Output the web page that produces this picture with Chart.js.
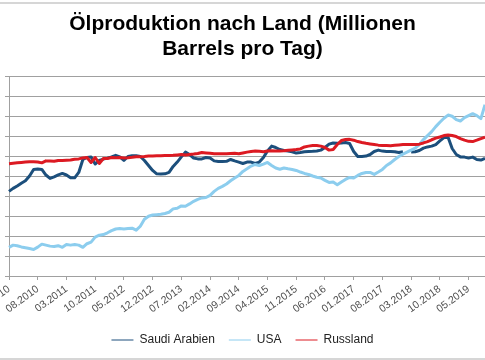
<!DOCTYPE html>
<html>
<head>
<meta charset="utf-8">
<script src="https://cdn.jsdelivr.net/npm/chart.js@4"></script>
<style>
  body { margin: 0; background: #fff; }
  #wrap { position: relative; width: 485px; height: 360px; overflow: hidden; }
  #rahmen { position: absolute; left: -5px; right: -5px; top: 2px; height: 354px;
            border-top: 2px solid #d6d6d6; border-bottom: 2px solid #d6d6d6; }
  canvas { position: absolute; left: 0; top: 0; }
</style>
</head>
<body>
<div id="wrap">
  <div id="rahmen"></div>
  <canvas id="chart" width="485" height="360"></canvas>
</div>
<script>
// Monate 01.2010 .. 09.2019
const monate = [];
for (let j = 2010; j <= 2019; j++) {
    for (let m = 1; m <= 12; m++) {
        if (j === 2019 && m > 9) break;
        monate.push((m < 10 ? '0' + m : m) + '.' + j);
    }
}

const saudiArabien = [
    8.25, 8.40, 8.52, 8.66, 8.78, 9.02, 9.35, 9.37, 9.35, 9.07, 8.90, 8.98,
    9.08, 9.15, 9.07, 8.93, 8.93, 9.20, 9.85, 9.95, 9.98, 9.62, 9.80, 9.87,
    9.92, 9.98, 10.06, 9.98, 9.80, 10.00, 10.04, 10.04, 10.00, 9.80, 9.55, 9.30,
    9.13, 9.12, 9.13, 9.20, 9.50, 9.72, 9.98, 10.22, 10.10, 9.92, 9.88, 9.88,
    9.95, 9.92, 9.78, 9.75, 9.75, 9.76, 9.85, 9.78, 9.72, 9.65, 9.72, 9.72,
    9.65, 9.72, 9.95, 10.28, 10.52, 10.45, 10.35, 10.30, 10.28, 10.24, 10.17, 10.20,
    10.24, 10.25, 10.26, 10.28, 10.32, 10.45, 10.62, 10.68, 10.67, 10.68, 10.70, 10.65,
    10.25, 10.00, 10.00, 10.02, 10.10, 10.25, 10.32, 10.27, 10.25, 10.25, 10.24, 10.20,
    10.24, null, 10.22, 10.24, 10.30, 10.42, 10.48, 10.52, 10.60, 10.78, 10.95, 10.97,
    10.40, 10.10, 9.98, 9.97, 9.92, 9.97, 9.85, 9.82, 9.90
];

const usa = [
    5.44, 5.55, 5.52, 5.46, 5.42, 5.38, 5.33, 5.45, 5.60, 5.55, 5.50, 5.48,
    5.52, 5.44, 5.58, 5.55, 5.58, 5.55, 5.44, 5.62, 5.70, 5.95, 6.05, 6.08,
    6.17, 6.28, 6.36, 6.38, 6.36, 6.38, 6.40, 6.30, 6.50, 6.85, 7.00, 7.06,
    7.08, 7.10, 7.14, 7.20, 7.37, 7.40, 7.52, 7.50, 7.62, 7.75, 7.85, 7.92,
    7.94, 8.05, 8.25, 8.40, 8.50, 8.62, 8.78, 8.92, 9.05, 9.25, 9.38, 9.52,
    9.60, 9.55, 9.62, 9.70, 9.55, 9.42, 9.36, 9.42, 9.38, 9.35, 9.30, 9.22,
    9.15, 9.10, 9.02, 8.96, 8.92, 8.80, 8.70, 8.72, 8.58, 8.72, 8.85, 8.95,
    8.92, 9.05, 9.15, 9.20, 9.20, 9.10, 9.22, 9.35, 9.55, 9.68, 9.85, 10.00,
    10.12, 10.22, 10.32, 10.42, 10.60, 10.85, 11.05, 11.25, 11.50, 11.72, 11.92, 12.08,
    12.02, 11.85, 11.78, 11.95, 12.05, 12.15, 12.05, 11.90, 12.60
];

const russland = [
    9.64, 9.66, 9.68, 9.70, 9.72, 9.74, 9.73, 9.72, 9.68, 9.78, 9.77, 9.76,
    9.80, 9.80, 9.81, 9.82, 9.86, 9.88, 9.93, 9.95, 9.70, 9.95, 9.65, 9.90,
    9.90, 9.95, 9.94, 9.95, 9.93, 9.94, 9.96, 9.99, 9.99, 10.00, 10.02, 10.03,
    10.04, 10.04, 10.05, 10.05, 10.06, 10.08, 10.10, 10.08, 10.10, 10.12, 10.15, 10.20,
    10.18, 10.16, 10.14, 10.14, 10.14, 10.14, 10.15, 10.16, 10.14, 10.18, 10.22, 10.25,
    10.27, 10.26, 10.24, 10.28, 10.29, 10.28, 10.28, 10.29, 10.31, 10.33, 10.35, 10.38,
    10.48, 10.52, 10.55, 10.55, 10.52, 10.45, 10.32, 10.35, 10.60, 10.80, 10.85, 10.86,
    10.82, 10.75, 10.70, 10.66, 10.63, 10.60, 10.57, 10.55, 10.55, 10.54, 10.56, 10.58,
    10.60, 10.60, 10.60, 10.60, 10.62, 10.68, 10.75, 10.84, 10.92, 10.98, 11.05, 11.08,
    11.05, 11.00, 10.90, 10.82, 10.76, 10.75, 10.82, 10.90, 10.97
];

const schrift = "'Liberation Sans', Arial, sans-serif";
Chart.defaults.font.family = schrift;

const ctx = document.getElementById('chart').getContext('2d');

new Chart(ctx, {
    type: 'line',
    data: {
        labels: monate,
        datasets: [
            { label: 'Saudi Arabien', data: saudiArabien, borderColor: '#1c4f7c', order: 3 },
            { label: 'USA', data: usa, borderColor: '#8ccdee', order: 2 },
            { label: 'Russland', data: russland, borderColor: '#dc1a22', order: 1 }
        ]
    },
    options: {
        responsive: false,
        animation: false,
        spanGaps: false,
        elements: {
            line: { borderWidth: 3, tension: 0, fill: false, borderJoinStyle: 'round' },
            point: { radius: 0 }
        },
        layout: { padding: { bottom: 4 } },
        plugins: {
            title: {
                display: true,
                text: ['Ölproduktion nach Land (Millionen', 'Barrels pro Tag)'],
                color: '#000',
                font: { size: 21, weight: 'bold', lineHeight: 1.16 },
                padding: { top: 12.5, bottom: 15.6 }
            },
            legend: {
                position: 'bottom',
                labels: {
                    usePointStyle: true,
                    pointStyle: 'line',
                    pointStyleWidth: 22,
                    padding: 14,
                    color: '#222',
                    font: { size: 12 },
                    sort: (a, b) => a.datasetIndex - b.datasetIndex
                }
            },
            tooltip: { enabled: false }
        },
        scales: {
            x: {
                grid: { drawOnChartArea: false, tickLength: 4, color: '#a0a0a0' },
                border: { color: '#a0a0a0' },
                ticks: {
                    autoSkip: false,
                    minRotation: 36,
                    maxRotation: 36,
                    color: '#4d4d4d',
                    font: { size: 10.5 },
                    callback: function(value, index) {
                        return index % 7 === 0 ? this.getLabelForValue(value) : null;
                    }
                },
                afterFit: function(scale) {
                    scale.paddingLeft = 0;
                    scale.paddingRight = 0;
                    scale.height = 44;
                }
            },
            y: {
                min: 4,
                max: 14,
                ticks: { stepSize: 1, callback: () => '' },
                grid: { color: '#a0a0a0', tickLength: 4 },
                border: { color: '#a0a0a0' },
                afterFit: function(scale) {
                    scale.width = 9;
                }
            }
        }
    }
});
</script>
</body>
</html>
